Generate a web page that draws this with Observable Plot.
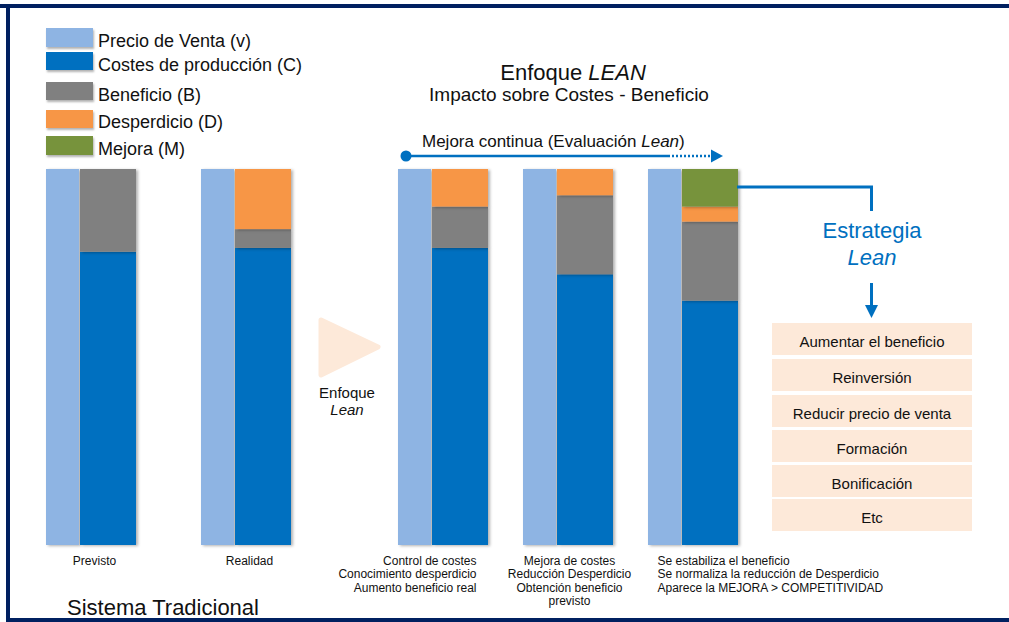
<!DOCTYPE html>
<html><head><meta charset="utf-8">
<script src="https://cdn.jsdelivr.net/npm/d3@7"></script>
<script src="https://cdn.jsdelivr.net/npm/@observablehq/plot@0.6"></script>
<style>
body{margin:0;background:#fff;font-family:"Liberation Sans",Arial,sans-serif;color:#111;}
#wrap{position:relative;width:1009px;height:622px;overflow:hidden;background:#fff;}
.bt{position:absolute;left:0;top:4px;width:1009px;height:4px;background:#002060;}
.bl{position:absolute;left:6px;top:4px;width:4px;height:618px;background:#002060;}
.bb{position:absolute;left:6px;top:618px;width:1003px;height:4px;background:#002060;}
.abs{position:absolute;white-space:nowrap;}
.sw{position:absolute;left:46px;width:47px;box-shadow:1px 2px 2px rgba(0,0,0,0.3);}
.lt{position:absolute;left:98px;font-size:18px;line-height:18px;}
.box{position:absolute;left:772px;width:200px;height:32px;background:#FDE9D9;font-size:15px;line-height:32px;text-align:center;box-sizing:border-box;padding-top:3px;}
#wrap svg{position:absolute;left:0;top:0;}
#wrap svg g[aria-label="bar"] rect{filter:drop-shadow(2px 1px 1.5px rgba(0,0,0,0.3));}
</style></head>
<body><div id="wrap"></div>
<script>
// ---- data ----
const scenarios = ["Previsto", "Realidad", "Control", "Mejora", "Estabiliza"];
const traditional = ["Previsto", "Realidad"];
const leanGroup = ["Control", "Mejora", "Estabiliza"];
const precioVenta = [100, 100, 100, 100, 100];
const costes = [78, 79, 79, 72, 65];
const beneficio = [22, 5, 11, 21, 21];
const desperdicio = [0, 16, 10, 7, 4];
const mejora = [0, 0, 0, 0, 10];
const scenarioLabels = [
  "Previsto",
  "Realidad",
  "Control de costes\nConocimiento desperdicio\nAumento beneficio real",
  "Mejora de costes\nReducción Desperdicio\nObtención beneficio\nprevisto",
  "Se estabiliza el beneficio\nSe normaliza la reducción de Desperdicio\nAparece la MEJORA > COMPETITIVIDAD"
];
const legendNames = ["Precio de Venta (v)", "Costes de producción (C)", "Beneficio (B)", "Desperdicio (D)", "Mejora (M)"];
const componentNames = ["Costes", "Beneficio", "Desperdicio", "Mejora"];
const colors = ["#8EB4E3", "#0070C0", "#808080", "#F79646", "#77933C"];
const strategyItems = ["Aumentar el beneficio", "Reinversión", "Reducir precio de venta", "Formación", "Bonificación", "Etc"];

// ---- build tables ----
const series = [costes, beneficio, desperdicio, mejora];
const stackRows = [];
scenarios.forEach((s, i) => {
  componentNames.forEach((c, j) => stackRows.push({name: s, component: c, value: series[j][i]}));
});
const priceRows = scenarios.map((s, i) => ({name: s, value: precioVenta[i]}));
const labelRows = scenarios.map((s, i) => ({name: s, label: scenarioLabels[i]}));

const wrap = document.getElementById("wrap");
const font = '"Liberation Sans", Arial, sans-serif';

function barsPlot(names, marginLeft, marginRight, paddingInner, paddingOuter, textMarks) {
  return Plot.plot({
    width: 1009, height: 622,
    marginTop: 169, marginBottom: 77, marginLeft, marginRight,
    style: {background: "transparent", overflow: "visible", fontFamily: font, fontSize: "12px", color: "#111"},
    x: {domain: names, paddingInner, paddingOuter, axis: null},
    y: {domain: [0, 100], axis: null},
    color: {domain: componentNames, range: colors.slice(1)},
    marks: [
      Plot.barY(priceRows.filter(d => names.includes(d.name)), {x: "name", y: "value", fill: colors[0], insetRight: 57}),
      Plot.barY(stackRows.filter(d => names.includes(d.name)), {x: "name", y: "value", fill: "component", insetLeft: 34}),
      ...textMarks
    ]
  });
}

const txt = (filterNames, anchor, dx) => Plot.text(labelRows.filter(d => filterNames.includes(d.name)), {
  x: "name", text: "label", frameAnchor: "bottom", lineAnchor: "top", dy: 10, dx,
  textAnchor: anchor, lineHeight: 1.12, fill: "#111", fontSize: 12
});

wrap.appendChild(barsPlot(traditional, 13, 685, 0.42, 0.21, [txt(traditional, "middle", 3)]));
wrap.appendChild(barsPlot(leanGroup, 380, 254, 0.28, 0.14, [
  txt(["Control"], "end", 33),
  txt(["Mejora"], "middle", 1),
  txt(["Estabiliza"], "start", -36)
]));

// ---- annotations (HTML / SVG overlay) ----
let html = '<div class="bt"></div><div class="bl"></div><div class="bb"></div>';
const swTops = [28, 52, 82, 110, 136];
const swH = [19, 18, 18, 18, 19];
const txTops = [32, 56, 86, 113, 140];
legendNames.forEach((n, i) => {
  html += `<div class="sw" style="top:${swTops[i]}px;height:${swH[i]}px;background:${colors[i]}"></div>`;
  html += `<div class="abs lt" style="top:${txTops[i]}px">${n}</div>`;
});
html += `<div class="abs" style="left:473px;width:200px;text-align:center;top:62px;font-size:22px;line-height:22px">Enfoque <i>LEAN</i></div>`;
html += `<div class="abs" style="left:419px;width:300px;text-align:center;top:84.5px;font-size:19px;line-height:19px">Impacto sobre Costes - Beneficio</div>`;
html += `<div class="abs" style="left:422px;top:132.5px;font-size:17px;line-height:17px">Mejora continua (Evaluación <i>Lean</i>)</div>`;
html += `<div class="abs" style="left:772px;width:200px;text-align:center;top:220px;font-size:22px;line-height:22px;color:#0070C0">Estrategia</div>`;
html += `<div class="abs" style="left:772px;width:200px;text-align:center;top:247px;font-size:22px;line-height:22px;color:#0070C0"><i>Lean</i></div>`;
const boxTops = [323, 359, 395, 430, 465, 499];
strategyItems.forEach((s, i) => { html += `<div class="box" style="top:${boxTops[i]}px">${s}</div>`; });
html += `<div class="abs" style="left:297px;width:100px;text-align:center;top:385px;font-size:15px;line-height:15px">Enfoque</div>`;
html += `<div class="abs" style="left:297px;width:100px;text-align:center;top:401.5px;font-size:15px;line-height:15px"><i>Lean</i></div>`;
html += `<div class="abs" style="left:67px;top:597px;font-size:22px;line-height:22px">Sistema Tradicional</div>`;
html += `<svg width="1009" height="622" style="position:absolute;left:0;top:0;pointer-events:none">
  <polygon points="321,320 378,347 321,375" fill="#FDE9D9" stroke="#FDE9D9" stroke-width="5" stroke-linejoin="round"/>
  <line x1="406" y1="156" x2="668" y2="156" stroke="#0070C0" stroke-width="2.5"/>
  <line x1="668" y1="156" x2="711" y2="156" stroke="#0070C0" stroke-width="2.5" stroke-dasharray="2 2"/>
  <polygon points="711,149.5 723,156 711,162.5" fill="#0070C0"/>
  <circle cx="406" cy="156" r="5.5" fill="#0070C0"/>
  <polyline points="737,187 871.5,187 871.5,211" fill="none" stroke="#0070C0" stroke-width="3"/>
  <line x1="871.5" y1="283" x2="871.5" y2="306" stroke="#0070C0" stroke-width="3"/>
  <polygon points="865,305 878,305 871.5,318" fill="#0070C0"/>
</svg>`;
wrap.insertAdjacentHTML("beforeend", html);
</script>
</body></html>
